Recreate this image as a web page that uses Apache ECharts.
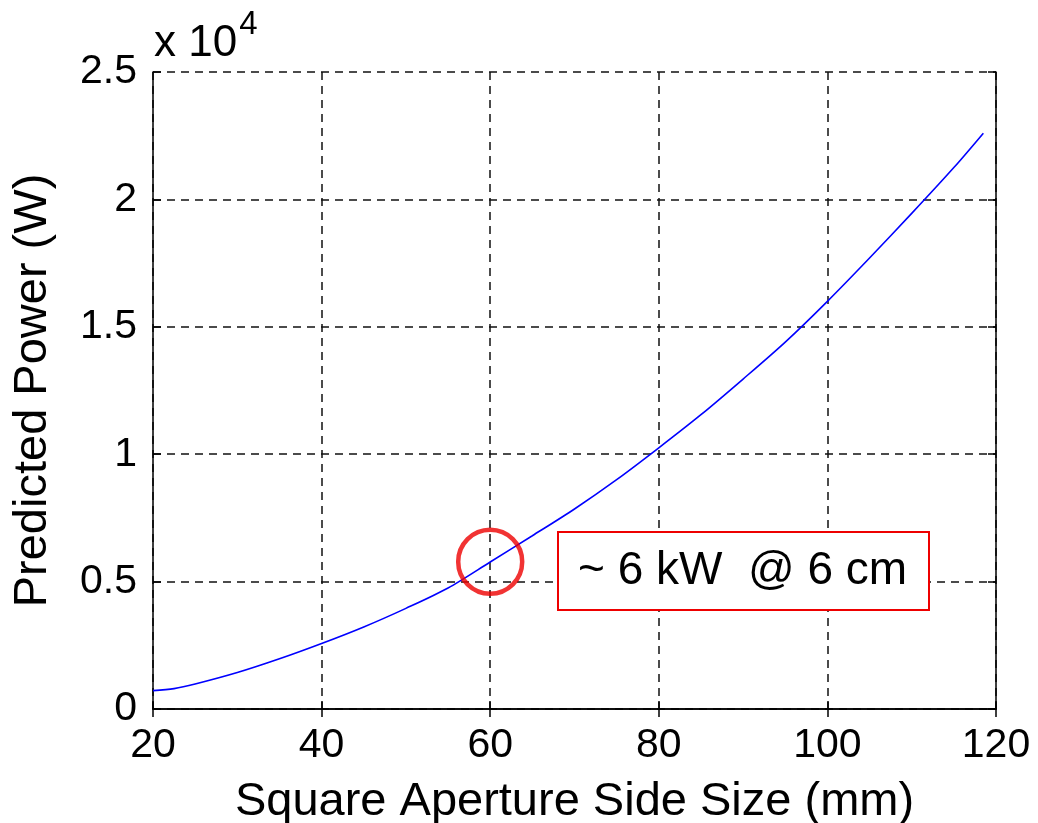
<!DOCTYPE html>
<html>
<head>
<meta charset="utf-8">
<script src="https://cdn.jsdelivr.net/npm/echarts@6/dist/echarts.min.js"></script>
<style>
html,body{margin:0;padding:0;background:#fff;}
#c{width:1038px;height:823px;}
</style>
</head>
<body>
<div id="c"></div>
<script>
// Square aperture side size (mm)
const apertureMm = [20, 22.5, 25, 30, 35, 40, 45, 50, 55, 60, 65, 70, 75, 80, 85, 90, 95, 100, 105, 110, 115, 118.5];
// Predicted power (W)
const powerW = [720, 800, 980, 1430, 1970, 2570, 3220, 3950, 4750, 5770, 6800, 7850, 9000, 10250, 11550, 12950, 14400, 16000, 17700, 19450, 21250, 22600];
// Highlighted point (6 cm -> ~6 kW)
const highlight = [60, 5780];
const xTicks = [20, 40, 60, 80, 100, 120];
const yTickLabels = ['0', '0.5', '1', '1.5', '2', '2.5'];
const annotationText = '~ 6 kW  @ 6 cm';

const FONT = 'Liberation Sans, Arial, sans-serif';
const chart = echarts.init(document.getElementById('c'), null, {renderer: 'canvas'});

const gridLine = {show: true, lineStyle: {color: '#111', width: 1.5, type: [8, 6]}};
const axisLine = {show: true, lineStyle: {color: '#000', width: 1.5}};
const axisTick = {show: true, inside: true, length: 8, lineStyle: {color: '#000', width: 1.5}};

chart.setOption({
  animation: false,
  backgroundColor: '#fff',
  grid: {left: 153, right: 42, top: 72, bottom: 114, containLabel: false, outerBoundsMode: 'none'},
  xAxis: [{
    type: 'value', min: xTicks[0], max: xTicks[xTicks.length - 1], interval: 20,
    position: 'bottom',
    axisLine, axisTick, splitLine: gridLine,
    axisLabel: {color: '#000', fontFamily: FONT, fontSize: 41, margin: 16},
    name: 'Square Aperture Side Size (mm)', nameLocation: 'middle', nameGap: 70,
    nameTextStyle: {color: '#000', fontFamily: FONT, fontSize: 47}
  }, {
    type: 'value', min: xTicks[0], max: xTicks[xTicks.length - 1], interval: 20,
    position: 'top',
    axisLine, axisTick, splitLine: {show: false}, axisLabel: {show: false}
  }],
  yAxis: [{
    type: 'value', min: 0, max: 25000, interval: 5000,
    position: 'left',
    axisLine, axisTick, splitLine: gridLine,
    axisLabel: {color: '#000', fontFamily: FONT, fontSize: 41, margin: 16,
      formatter: (v) => yTickLabels[Math.round(v / 5000)]},
    name: 'Predicted Power (W)', nameLocation: 'middle', nameGap: 96, nameRotate: 90,
    nameTextStyle: {color: '#000', fontFamily: FONT, fontSize: 47}
  }, {
    type: 'value', min: 0, max: 25000, interval: 5000,
    position: 'right',
    axisLine, axisTick, splitLine: {show: false}, axisLabel: {show: false}
  }],
  series: [{
    type: 'line',
    data: apertureMm.map((x, i) => [x, powerW[i]]),
    showSymbol: false, smooth: 0.3,
    lineStyle: {color: '#0000ff', width: 1.6},
    z: 3
  }, {
    type: 'scatter',
    data: [highlight],
    symbol: 'circle', symbolSize: 64,
    itemStyle: {color: 'rgba(0,0,0,0)', borderColor: '#ee0000', borderWidth: 4.5},
    z: 5
  }],
  graphic: [{
    type: 'text', left: 154, top: 8,
    style: {
      text: '{a|x 10}{b|4}',
      rich: {
        a: {fontFamily: FONT, fontSize: 44, fill: '#000', verticalAlign: 'bottom', lineHeight: 58},
        b: {fontFamily: FONT, fontSize: 33, fill: '#000', verticalAlign: 'top', lineHeight: 58, padding: [0,0,24,2]}
      }
    }
  }, {
    type: 'rect', left: 557, top: 531,
    shape: {width: 371, height: 78},
    style: {fill: '#fff', stroke: '#ee0000', lineWidth: 2},
    z: 10
  }, {
    type: 'text', left: 578, top: 548,
    style: {text: annotationText, fontFamily: FONT, fontSize: 46, fill: '#000'},
    z: 11
  }]
});
</script>
</body>
</html>
